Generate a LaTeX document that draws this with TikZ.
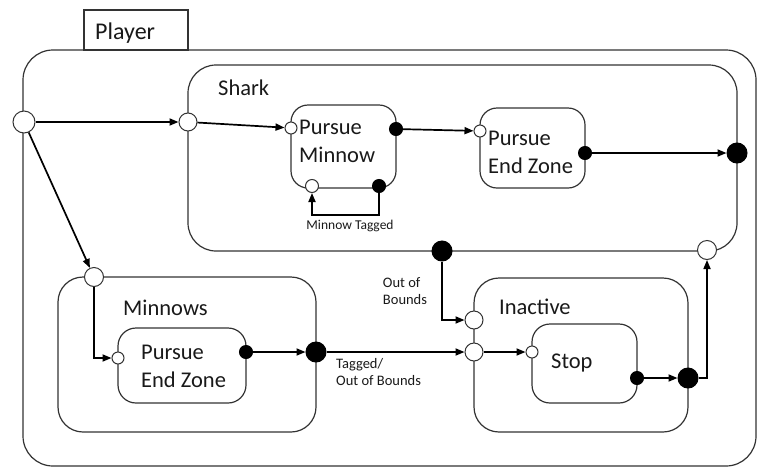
\documentclass[tikz,border=0pt]{standalone}
\usepackage{fontspec}
\setmainfont{Carlito}
\usetikzlibrary{arrows.meta}
\begin{document}
\begin{tikzpicture}[x=1pt,y=-1pt,
  statebox/.style={draw=black!80,line width=1.2pt,fill=none,inner sep=0pt},
  pin/.style={circle,draw=black!80,line width=1pt,inner sep=0pt,fill=white},
  pout/.style={circle,draw=black,line width=1pt,inner sep=0pt,fill=black},
  conn/.style={line width=1.7pt,-{Triangle[length=9pt,width=7pt]}},
  title/.style={font=\fontsize{22.5}{27}\selectfont,anchor=west,inner sep=0pt,text=black!90},
  inner/.style={font=\fontsize{22.5}{28}\selectfont,anchor=west,align=left,inner sep=0pt,text=black!90},
  small/.style={font=\fontsize{14.5}{17}\selectfont,inner sep=0pt,align=left,text=black!90}]
\useasboundingbox (0,0) rectangle (759,469);

% outer player state and its tab
\node[statebox,rounded corners=30pt,minimum width=733pt,minimum height=416pt] (player) at (389.5,258) {};
\node[statebox,fill=white,minimum width=104pt,minimum height=40pt] (tab) at (136,30) {};
\node[title,font=\fontsize{24}{28}\selectfont] (playerlbl) at (95,33) {Player};

% shark state
\node[statebox,rounded corners=28pt,minimum width=549pt,minimum height=186pt] (shark) at (462.5,158) {};
\node[title] (sharklbl) at (218,88) {Shark};
\node[statebox,rounded corners=17pt,minimum width=105pt,minimum height=83pt] (pm) at (343.5,146.5) {};
\node[inner] (pmlbl) at (299,141.5) {Pursue\\Minnow};
\node[statebox,rounded corners=17pt,minimum width=105pt,minimum height=80pt] (pez) at (532.5,148) {};
\node[inner] (pezlbl) at (488,152) {Pursue\\End Zone};

% minnows state
\node[statebox,rounded corners=25pt,minimum width=258pt,minimum height=155pt] (minnows) at (187,354.5) {};
\node[title] (minnowslbl) at (123,308) {Minnows};
\node[statebox,rounded corners=18pt,minimum width=128pt,minimum height=75pt] (pezm) at (182,365.5) {};
\node[inner] (pezmlbl) at (141,366) {Pursue\\End Zone};

% inactive state
\node[statebox,rounded corners=25pt,minimum width=214pt,minimum height=154pt] (inactive) at (581,355) {};
\node[title] (inactivelbl) at (499,307) {Inactive};
\node[statebox,rounded corners=18pt,minimum width=105pt,minimum height=79pt] (stop) at (584.5,363.5) {};
\node[inner] (stoplbl) at (551,363) {Stop};

% entry (white) and exit (black) points
\node[pin,minimum size=22pt] (init) at (24,122) {};
\node[pin,minimum size=18pt] (sharkin) at (188,122) {};
\node[pin,minimum size=12pt] (pmin) at (291,128) {};
\node[pout,minimum size=13pt] (pmout) at (396,129) {};
\node[pin,minimum size=13pt] (pmloopin) at (312,186) {};
\node[pout,minimum size=13pt] (pmloopout) at (379,186) {};
\node[pin,minimum size=12pt] (pezin) at (480,131) {};
\node[pout,minimum size=13pt] (pezout) at (585,153) {};
\node[pout,minimum size=20pt] (sharkout) at (737,153) {};
\node[pout,minimum size=20pt] (sharkoob) at (442,251) {};
\node[pin,minimum size=19pt] (sharkback) at (707,250) {};
\node[pin,minimum size=19pt] (minnowsin) at (94,277) {};
\node[pin,minimum size=12pt] (pezmin) at (118,358) {};
\node[pout,minimum size=13pt] (pezmout) at (246,352) {};
\node[pout,minimum size=20pt] (minnowsout) at (316,352) {};
\node[pin,minimum size=18pt] (inact1) at (474,320) {};
\node[pin,minimum size=18pt] (inact2) at (474,352) {};
\node[pin,minimum size=12pt] (stopin) at (532,352) {};
\node[pout,minimum size=13pt] (stopout) at (637,378) {};
\node[pout,minimum size=20pt] (inactout) at (688,378) {};

% transitions
\draw[conn] (init) -- (sharkin);
\draw[conn] (sharkin) -- (pmin);
\draw[conn] (pmout) -- (pezin);
\draw[conn] (pezout) -- (sharkout);
\draw[conn] (pmloopout.south) -- ++(0,22) -| (pmloopin.south);
\node[small,font=\fontsize{13.5}{16}\selectfont] (mtlbl) at (350,226) {Minnow Tagged};

\draw[conn] (init) -- (minnowsin);
\draw[conn] (minnowsin.south) |- (pezmin.west);
\draw[conn] (pezmout) -- (minnowsout);
\draw[conn] (minnowsout) -- (inact2);
\node[small,anchor=north west] (tglbl) at (336,358) {Tagged/\\Out of Bounds};

\draw[conn] (sharkoob.south) |- (inact1.west);
\node[small,anchor=center] (ooblbl) at (405,291) {Out of\\Bounds};

\draw[conn] (inact2) -- (stopin);
\draw[conn] (stopout) -- (inactout);
\draw[conn] (inactout.east) -| (sharkback.south);
\end{tikzpicture}
\end{document}
